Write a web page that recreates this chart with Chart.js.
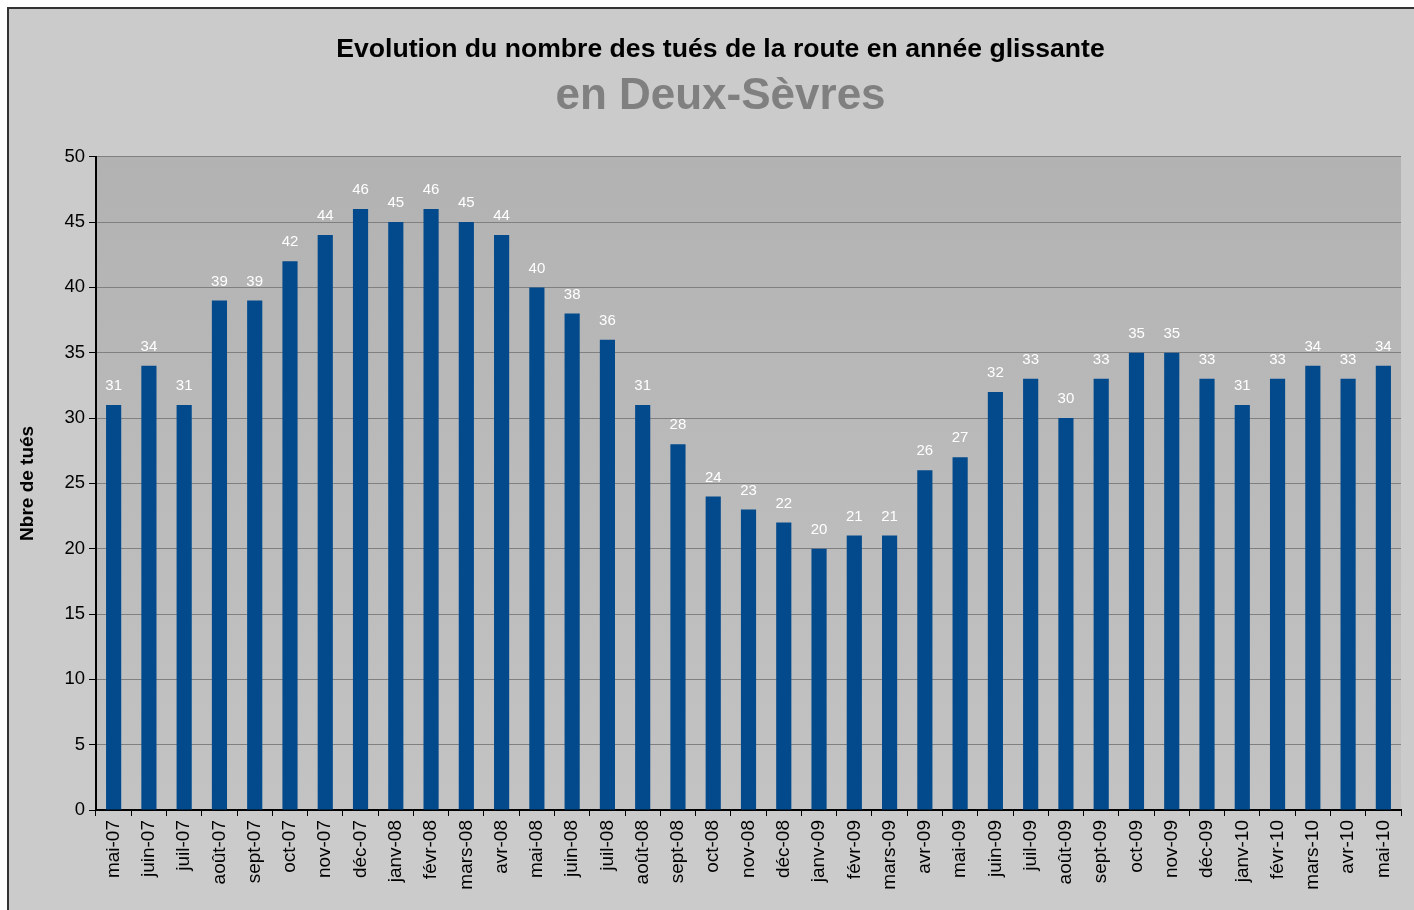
<!DOCTYPE html>
<html lang="fr">
<head>
    <meta charset="UTF-8">
    <title>Tués de la route - Deux-Sèvres</title>
    <script src="https://cdn.jsdelivr.net/npm/chart.js"></script>
    <style>
        body {
            margin: 0;
            background: #ffffff;
            font-family: "Liberation Sans", Arial, sans-serif;
            overflow: hidden;
        }
        .frame {
            position: absolute;
            left: 7px;
            top: 7px;
            width: 1420px;
            height: 920px;
            border: 2px solid #333333;
            background: #cbcbcb;
        }
        canvas {
            position: absolute;
            left: 0;
            top: 0;
        }
    </style>
</head>
<body>
    <div class="frame"></div>
    <canvas id="tuesChart" width="1414" height="910"></canvas>

    <script>
        const months = [
            'mai-07', 'juin-07', 'juil-07', 'août-07', 'sept-07', 'oct-07', 'nov-07', 'déc-07',
            'janv-08', 'févr-08', 'mars-08', 'avr-08', 'mai-08', 'juin-08', 'juil-08', 'août-08',
            'sept-08', 'oct-08', 'nov-08', 'déc-08', 'janv-09', 'févr-09', 'mars-09', 'avr-09',
            'mai-09', 'juin-09', 'juil-09', 'août-09', 'sept-09', 'oct-09', 'nov-09', 'déc-09',
            'janv-10', 'févr-10', 'mars-10', 'avr-10', 'mai-10'
        ];
        const tues = [
            31, 34, 31, 39, 39, 42, 44, 46,
            45, 46, 45, 44, 40, 38, 36, 31,
            28, 24, 23, 22, 20, 21, 21, 26,
            27, 32, 33, 30, 33, 35, 35, 33,
            31, 33, 34, 33, 34
        ];
        const yTicks = [0, 5, 10, 15, 20, 25, 30, 35, 40, 45, 50];

        const FONT = '"Liberation Sans", Arial, sans-serif';

        // gradient behind the bars
        const plotBackground = {
            id: 'plotBackground',
            beforeDraw(chart) {
                const { ctx, chartArea } = chart;
                const g = ctx.createLinearGradient(0, chartArea.top, 0, chartArea.bottom);
                g.addColorStop(0, '#b2b2b2');
                g.addColorStop(1, '#c3c3c3');
                ctx.save();
                ctx.fillStyle = g;
                ctx.fillRect(chartArea.left, chartArea.top, chartArea.right - chartArea.left, chartArea.bottom - chartArea.top);
                ctx.restore();
            }
        };

        // white values above each bar
        const barValues = {
            id: 'barValues',
            afterDatasetsDraw(chart) {
                const { ctx } = chart;
                const meta = chart.getDatasetMeta(0);
                ctx.save();
                ctx.fillStyle = '#ffffff';
                ctx.font = '15px ' + FONT;
                ctx.textAlign = 'center';
                ctx.textBaseline = 'middle';
                meta.data.forEach((bar, i) => {
                    ctx.fillText(tues[i], bar.x, bar.y - 19);
                });
                ctx.restore();
            }
        };

        const ctx = document.getElementById('tuesChart').getContext('2d');
        new Chart(ctx, {
            type: 'bar',
            data: {
                labels: months,
                datasets: [{
                    label: 'Nbre de tués',
                    data: tues,
                    backgroundColor: '#034a8c',
                    borderWidth: 0,
                    barPercentage: 0.43,
                    categoryPercentage: 1.0
                }]
            },
            options: {
                responsive: false,
                animation: false,
                layout: {
                    // left padding pushes the title centre to ~720
                    padding: { left: 40, right: 13, top: 0, bottom: 0 }
                },
                plugins: {
                    legend: { display: false },
                    tooltip: { enabled: false },
                    title: {
                        display: true,
                        text: 'Evolution du nombre des tués de la route en année glissante',
                        color: '#000000',
                        font: { family: FONT, size: 26.6, weight: 'bold', lineHeight: 1.2 },
                        padding: { top: 34, bottom: 5 }
                    },
                    subtitle: {
                        display: true,
                        text: 'en Deux-Sèvres',
                        color: '#808080',
                        font: { family: FONT, size: 44, weight: 'bold', lineHeight: 1.2 },
                        padding: { top: 0, bottom: 33 }
                    }
                },
                scales: {
                    x: {
                        offset: true,
                        grid: {
                            offset: true,
                            drawOnChartArea: false,
                            drawTicks: true,
                            tickLength: 6,
                            tickColor: '#000000'
                        },
                        border: { color: '#000000', width: 2 },
                        ticks: {
                            color: '#000000',
                            font: { family: FONT, size: 19 },
                            minRotation: 90,
                            maxRotation: 90,
                            autoSkip: false,
                            padding: 4
                        },
                        afterFit(scale) { scale.height = 100; }
                    },
                    y: {
                        min: 0,
                        max: 50,
                        afterBuildTicks(scale) {
                            scale.ticks = yTicks.map(v => ({ value: v }));
                        },
                        grid: {
                            color: '#808080',
                            lineWidth: 1,
                            tickLength: 7,
                            tickColor: '#000000'
                        },
                        border: { color: '#000000', width: 2 },
                        ticks: {
                            color: '#000000',
                            font: { family: FONT, size: 18.5 },
                            padding: 4
                        },
                        title: {
                            display: true,
                            text: 'Nbre de tués',
                            color: '#000000',
                            font: { family: FONT, size: 19, weight: 'bold' },
                            padding: { top: -24, bottom: 0 }
                        },
                        afterFit(scale) { scale.width = 56; }
                    }
                }
            },
            plugins: [plotBackground, barValues]
        });
    </script>
</body>
</html>
